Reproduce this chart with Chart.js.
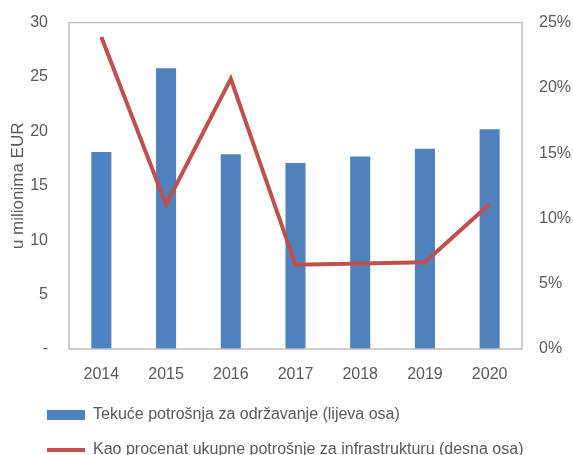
<!DOCTYPE html>
<html lang="bs">

<head>
    <meta charset="UTF-8">
    <title>Tekuce potrosnja</title>
    <script src="https://cdn.jsdelivr.net/npm/chart.js@4.4.1/dist/chart.umd.min.js"></script>
    <style>
        body { margin: 0; background: #fff; }
        #wrap { width: 573px; height: 455px; }
    </style>
</head>

<body>
    <div id="wrap"><canvas id="chart" width="573" height="455"></canvas></div>

    <script>
        // data
        var years = ['2014', '2015', '2016', '2017', '2018', '2019', '2020'];
        var odrzavanje = [18.1, 25.8, 17.9, 17.1, 17.7, 18.4, 20.2];
        var procenat = [23.9, 11.05, 20.7, 6.45, 6.55, 6.65, 11.1];
        var leftTicks = [0, 5, 10, 15, 20, 25, 30];
        var rightTicks = [0, 5, 10, 15, 20, 25];

        var grey = '#595959';
        var fontFam = "'Liberation Sans', Arial, sans-serif";

        // box around the plot area
        var frame = {
            id: 'frame',
            afterDatasetsDraw(chart) {
                var a = chart.chartArea, c = chart.ctx;
                c.save();
                c.strokeStyle = '#bfbfbf';
                c.lineWidth = 1.5;
                c.strokeRect(a.left, a.top, a.right - a.left, a.bottom - a.top);
                c.restore();
            }
        };

        // legend sits low in the reference, so keep its box short
        var shortLegend = {
            id: 'shortLegend',
            beforeLayout(chart) {
                var lg = chart.legend;
                if (!lg || lg._patched) return;
                var fit = lg.fit;
                lg.fit = function () {
                    fit.call(this);
                    this.height = 67;
                };
                lg._patched = true;
            }
        };

        var ctx = document.getElementById('chart').getContext('2d');
        var chart = new Chart(ctx, {
            data: {
                labels: years,
                datasets: [{
                    type: 'line',
                    label: 'Kao procenat ukupne potrošnje za infrastrukturu (desna osa)',
                    data: procenat,
                    yAxisID: 'y1',
                    borderColor: '#c0504d',
                    backgroundColor: '#c0504d',
                    borderWidth: 4,
                    pointRadius: 0,
                    tension: 0,
                    order: 0
                }, {
                    type: 'bar',
                    label: 'Tekuće potrošnja za održavanje (lijeva osa)',
                    data: odrzavanje,
                    yAxisID: 'y',
                    backgroundColor: '#4f81bd',
                    borderColor: '#4f81bd',
                    barPercentage: 0.62,
                    categoryPercentage: 0.5,
                    order: 1
                }]
            },
            options: {
                responsive: false,
                animation: false,
                layout: { padding: { left: 28, right: 0, top: 21, bottom: 0 } },
                plugins: {
                    tooltip: { enabled: false },
                    legend: {
                        position: 'bottom',
                        align: 'start',
                        labels: {
                            color: grey,
                            font: { family: fontFam, size: 16 },
                            usePointStyle: true,
                            pointStyleWidth: 38,
                            boxHeight: 10,
                            padding: 19,
                            generateLabels(chart) {
                                // bar first, then line, like the reference
                                return chart.data.datasets.map(function (ds, i) {
                                    return {
                                        text: ds.label,
                                        fillStyle: ds.backgroundColor,
                                        strokeStyle: ds.borderColor,
                                        lineWidth: ds.type === 'line' ? 4 : 0,
                                        pointStyle: ds.type === 'line' ? 'line' : 'rect',
                                        fontColor: grey,
                                        datasetIndex: i
                                    };
                                }).reverse();
                            }
                        }
                    }
                },
                scales: {
                    x: {
                        grid: { display: false },
                        border: { display: false },
                        afterFit(axis) { axis.height = 39; },
                        ticks: { color: grey, font: { family: fontFam, size: 16 }, padding: 8 }
                    },
                    y: {
                        position: 'left',
                        min: 0,
                        max: 30,
                        afterBuildTicks(axis) { axis.ticks = leftTicks.map(function (v) { return { value: v }; }); },
                        afterFit(axis) { axis.width = 41; },
                        grid: { display: false },
                        border: { display: false },
                        title: {
                            display: true,
                            text: 'u milionima EUR',
                            color: grey,
                            font: { family: fontFam, size: 17 },
                            padding: { top: -20, bottom: 0 }
                        },
                        ticks: {
                            color: grey,
                            font: { family: fontFam, size: 16 },
                            padding: 13,
                            callback: function (v) { return v === 0 ? '-' : v; }
                        }
                    },
                    y1: {
                        position: 'right',
                        min: 0,
                        max: 25,
                        afterBuildTicks(axis) { axis.ticks = rightTicks.map(function (v) { return { value: v }; }); },
                        afterFit(axis) { axis.width = 51; },
                        grid: { display: false },
                        border: { display: false },
                        ticks: {
                            color: grey,
                            font: { family: fontFam, size: 16 },
                            padding: 9,
                            callback: function (v) { return v + '%'; }
                        }
                    }
                }
            },
            plugins: [frame, shortLegend]
        });
    </script>
</body>

</html>
